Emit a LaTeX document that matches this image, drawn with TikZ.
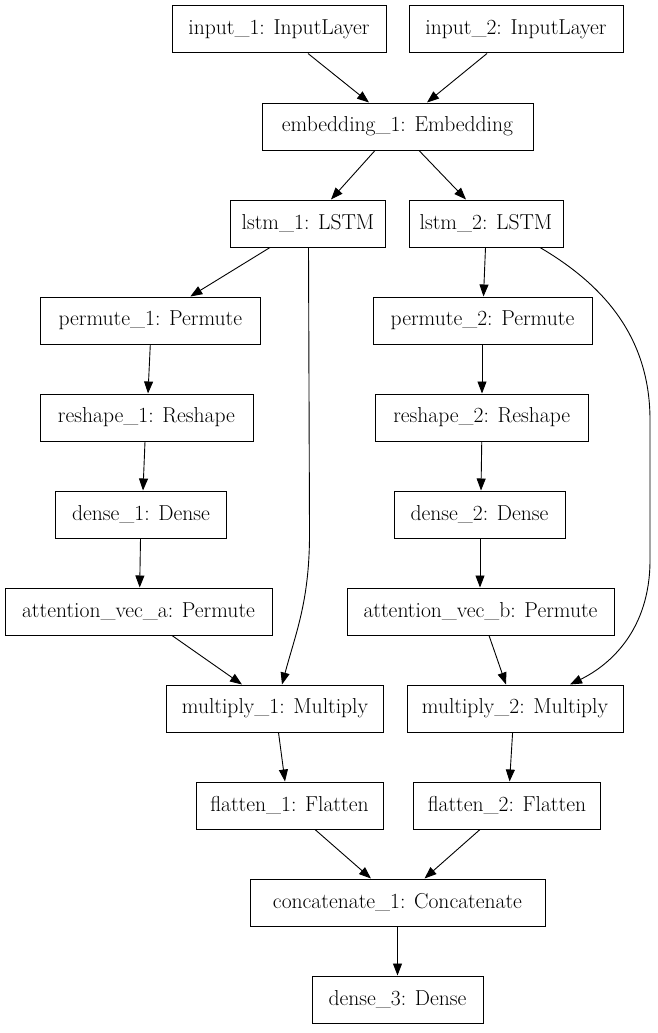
\documentclass[tikz,border=0pt]{standalone}
\usetikzlibrary{arrows.meta}
\begin{document}
\tikzset{
  layer/.style={draw=black, line width=1pt, minimum height=47pt, inner sep=0pt,
    font=\fontsize{21.6}{26}\selectfont},
  edge/.style={line width=0.9pt, -{Triangle[length=12pt,width=9pt]}}
}
\begin{tikzpicture}[x=1pt,y=-1pt]
\useasboundingbox (0,0) rectangle (657,1033);
% rank 0
\node[layer, minimum width=214pt] (in1) at (279,29.5) {input\_1: InputLayer};
\node[layer, minimum width=214pt] (in2) at (516,29.5) {input\_2: InputLayer};
% rank 1
\node[layer, minimum width=271pt] (emb) at (397.5,126.5) {embedding\_1: Embedding};
% rank 2
\node[layer, minimum width=155pt] (l1) at (308,223.5) {lstm\_1: LSTM};
\node[layer, minimum width=154pt] (l2) at (486,223.5) {lstm\_2: LSTM};
% rank 3
\node[layer, minimum width=220pt] (p1) at (150.3,320.5) {permute\_1: Permute};
\node[layer, minimum width=219pt] (p2) at (482.5,320.5) {permute\_2: Permute};
% rank 4
\node[layer, minimum width=213pt] (r1) at (146.5,417.5) {reshape\_1: Reshape};
\node[layer, minimum width=213pt] (r2) at (481.75,417.5) {reshape\_2: Reshape};
% rank 5
\node[layer, minimum width=171pt] (d1) at (141,514.5) {dense\_1: Dense};
\node[layer, minimum width=171pt] (d2) at (479.5,514.5) {dense\_2: Dense};
% rank 6
\node[layer, minimum width=267pt] (aa) at (138.5,611.5) {attention\_vec\_a: Permute};
\node[layer, minimum width=267pt] (ab) at (480.5,611.5) {attention\_vec\_b: Permute};
% rank 7
\node[layer, minimum width=217pt] (m1) at (275,708.5) {multiply\_1: Multiply};
\node[layer, minimum width=216pt] (m2) at (515,708.5) {multiply\_2: Multiply};
% rank 8
\node[layer, minimum width=187pt] (f1) at (289.5,805.5) {flatten\_1: Flatten};
\node[layer, minimum width=187pt] (f2) at (507,805.5) {flatten\_2: Flatten};
% rank 9
\node[layer, minimum width=295pt] (cat) at (397.5,902.5) {concatenate\_1: Concatenate};
% rank 10
\node[layer, minimum width=171pt] (d3) at (397.5,999.5) {dense\_3: Dense};

% edges
\draw[edge] ([xshift=29pt]in1.south) -- ([xshift=-28.5pt]emb.north);
\draw[edge] ([xshift=-29pt]in2.south) -- ([xshift=29.5pt]emb.north);
\draw[edge] ([xshift=-22.5pt]emb.south) -- ([xshift=23pt]l1.north);
\draw[edge] ([xshift=21.5pt]emb.south) -- ([xshift=-20pt]l2.north);
\draw[edge] ([xshift=-38pt]l1.south) -- ([xshift=40pt]p1.north);
\draw[edge] ([xshift=-0.5pt]l2.south) -- ([xshift=1pt]p2.north);
\draw[edge] (p1.south) -- ([xshift=1.5pt]r1.north);
\draw[edge] ([xshift=-1.5pt]r1.south) -- ([xshift=2pt]d1.north);
\draw[edge] ([xshift=-0.5pt]d1.south) -- ([xshift=1.2pt]aa.north);
\draw[edge] ([xshift=-0.5pt]p2.south) -- ([xshift=0.25pt]r2.north);
\draw[edge] (r2.south) -- ([xshift=1.5pt]d2.north);
\draw[edge] ([xshift=0.5pt]d2.south) -- ([xshift=-0.5pt]ab.north);
\draw[edge] ([xshift=33.5pt]aa.south) -- ([xshift=-33pt]m1.north);
\draw[edge] ([xshift=0.5pt]l1.south) -- (309.5,530) .. controls (310,600) and (296,632) .. ([xshift=7pt]m1.north);
\draw[edge] ([xshift=8.5pt]ab.south) -- ([xshift=-9pt]m2.north);
\draw[edge] ([xshift=54pt]l2.south) .. controls (595,280) and (650,330) .. (650,420) -- (650,560) .. controls (650,630) and (610,665) .. ([xshift=55pt]m2.north);
\draw[edge] ([xshift=3.5pt]m1.south) -- ([xshift=-4.5pt]f1.north);
\draw[edge] ([xshift=-2.4pt]m2.south) -- ([xshift=2.6pt]f2.north);
\draw[edge] ([xshift=25.5pt]f1.south) -- ([xshift=-26.5pt]cat.north);
\draw[edge] ([xshift=-27pt]f2.south) -- ([xshift=27pt]cat.north);
\draw[edge] (cat.south) -- (d3.north);
\end{tikzpicture}
\end{document}
